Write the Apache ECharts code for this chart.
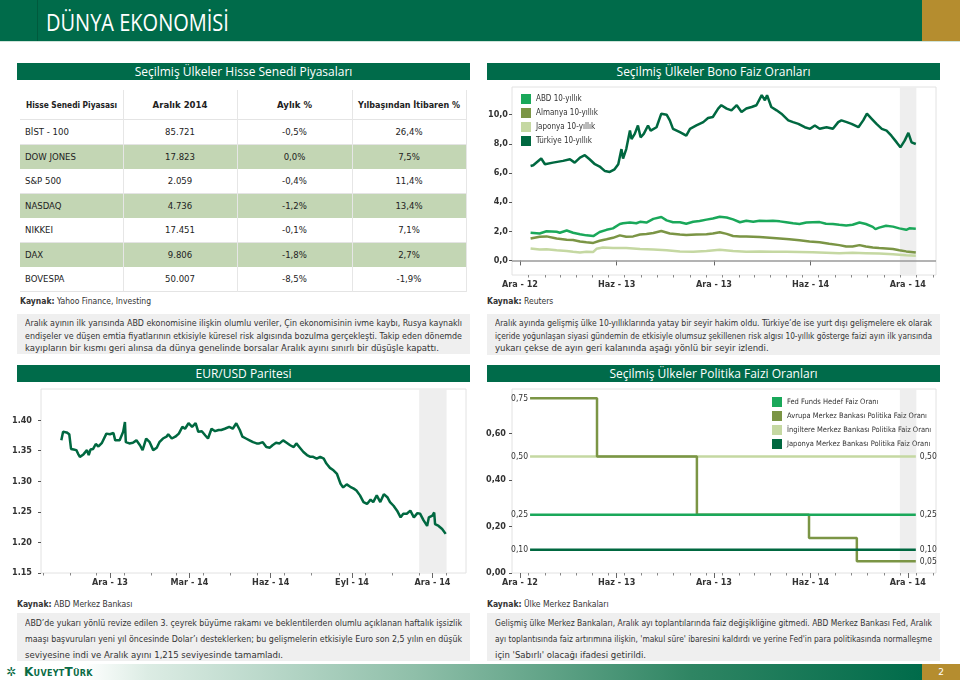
<!DOCTYPE html>
<html><head><meta charset="utf-8">
<script src="https://cdn.jsdelivr.net/npm/echarts@6/dist/echarts.min.js"></script>
<style>
html,body{margin:0;padding:0;background:#fff;}
#page{position:relative;width:960px;height:680px;overflow:hidden;font-family:'DejaVu Sans Condensed','DejaVu Sans',sans-serif;color:#333;}
.a{position:absolute;}
.bar{position:absolute;height:17px;background:#006b4a;color:#fff;font-family:'Open Sans',sans-serif;font-size:12px;line-height:17px;text-align:center;}
.box{position:absolute;background:#efefef;}
.ln{position:absolute;white-space:nowrap;font-size:9.5px;color:#333;}
.src{position:absolute;font-size:8.5px;color:#333;white-space:nowrap;}
.src b{font-weight:bold;}
.cell{position:absolute;font-size:9.5px;color:#222;white-space:nowrap;line-height:24px;}
#chart{position:absolute;left:0;top:0;width:960px;height:680px;z-index:5;pointer-events:none;}
</style></head>
<body><div id="page">
<div class="a" style="left:0;top:0;width:922px;height:41px;background:#006b4a;"></div>
<div class="a" style="left:37px;top:0;width:1px;height:41px;background:#005a3d;"></div>
<div class="a" style="left:922px;top:0;width:38px;height:41px;background:#b58d2f;"></div>
<div class="a" style="left:0;top:41px;width:960px;height:1px;background:#cfe3d9;"></div>
<div class="a" id="title" style="left:46px;top:6px;font-family:'Open Sans',sans-serif;font-size:23px;color:#fff;white-space:nowrap;transform-origin:0 0;transform:scaleX(0.87);">DÜNYA EKONOMİSİ</div>

<div class="bar" style="left:17px;top:63px;width:453px;">Seçilmiş Ülkeler Hisse Senedi Piyasaları</div>
<div class="bar" style="left:487px;top:63px;width:453px;">Seçilmiş Ülkeler Bono Faiz Oranları</div>
<div class="bar" style="left:17px;top:365px;width:453px;">EUR/USD Paritesi</div>
<div class="bar" style="left:487px;top:365px;width:453px;">Seçilmiş Ülkeler Politika Faizi Oranları</div>

<div id="table"></div>

<div class="src" style="left:20px;top:296px;"><b>Kaynak:</b> Yahoo Finance, Investing</div>
<div class="src" style="left:487px;top:296px;"><b>Kaynak:</b> Reuters</div>
<div class="src" style="left:17px;top:599px;"><b>Kaynak:</b> ABD Merkez Bankası</div>
<div class="src" style="left:487px;top:599px;"><b>Kaynak:</b> Ülke Merkez Bankaları</div>

<div class="box" style="left:17px;top:314px;width:453px;height:40px;"></div>
<div class="box" style="left:487px;top:314px;width:453px;height:41px;"></div>
<div class="box" style="left:17px;top:613px;width:453px;height:48px;"></div>
<div class="box" style="left:487px;top:613px;width:453px;height:48px;"></div>
<div id="texts"></div>

<div class="a" style="left:0;top:664px;width:922px;height:16px;background:linear-gradient(to right,#ffffff 0%,#ffffff 9%,#dcece4 16%,#8fbfa9 45%,#2f8563 75%,#006b4a 100%);"></div>
<div class="a" style="left:922px;top:664px;width:38px;height:16px;background:#b58d2f;color:#fff;font-size:9px;line-height:16px;text-align:center;font-family:'DejaVu Sans',sans-serif;">2</div>
<div class="a" style="left:6px;top:665px;font-family:'DejaVu Sans',sans-serif;font-weight:bold;font-size:12px;color:#0a6b45;line-height:14px;">✲</div>
<div class="a" style="left:24px;top:665px;font-family:'DejaVu Sans',sans-serif;font-weight:bold;font-size:12px;color:#0a6b45;line-height:14px;font-variant:small-caps;letter-spacing:0.3px;">KuveytTürk</div>

<div id="chart"></div>
</div>
<script>
// ---------------- DATA ----------------
const tableHeaders = ['Hisse Senedi Piyasası', 'Aralık 2014', 'Aylık %', 'Yılbaşından İtibaren %'];
const marketNames = ['BİST - 100', 'DOW JONES', 'S&P 500', 'NASDAQ', 'NIKKEI', 'DAX', 'BOVESPA'];
const decemberLevels = ['85.721', '17.823', '2.059', '4.736', '17.451', '9.806', '50.007'];
const monthlyPct = [-0.5, 0.0, -0.4, -1.2, -0.1, -1.8, -8.5];
const ytdPct = [26.4, 7.5, 11.4, 13.4, 7.1, 2.7, -1.9];

const bondNames = ['ABD 10-yıllık', 'Almanya 10-yıllık', 'Japonya 10-yıllık', 'Türkiye 10-yıllık'];
const bondTickDates = ['2012-12-16', '2013-06-16', '2013-12-16', '2014-06-16', '2014-12-16'];
const bondTickLabels = ['Ara - 12', 'Haz - 13', 'Ara - 13', 'Haz - 14', 'Ara - 14'];
const bondYTicks = [0, 2, 4, 6, 8, 10];

const usBond = [['2013-01-05',1.90],['2013-01-22',1.85],['2013-02-04',2.00],['2013-02-23',1.97],['2013-03-01',1.90],['2013-03-14',2.05],['2013-03-26',1.90],['2013-04-08',1.80],['2013-04-20',1.72],['2013-05-03',1.67],['2013-05-15',1.95],['2013-05-28',2.10],['2013-06-09',2.20],['2013-06-22',2.50],['2013-06-28',2.55],['2013-07-11',2.60],['2013-07-23',2.55],['2013-07-30',2.65],['2013-08-11',2.60],['2013-08-24',2.85],['2013-09-08',2.98],['2013-09-18',2.75],['2013-09-30',2.62],['2013-10-13',2.62],['2013-10-25',2.52],['2013-11-07',2.65],['2013-11-19',2.70],['2013-12-02',2.80],['2013-12-14',2.88],['2013-12-27',3.00],['2014-01-09',2.95],['2014-01-21',2.82],['2014-02-03',2.62],['2014-02-15',2.72],['2014-02-28',2.65],['2014-03-12',2.72],['2014-03-25',2.70],['2014-04-06',2.72],['2014-04-19',2.68],['2014-05-01',2.62],['2014-05-14',2.55],['2014-05-26',2.50],['2014-06-08',2.60],['2014-06-20',2.62],['2014-07-03',2.63],['2014-07-15',2.52],['2014-07-28',2.50],['2014-08-09',2.45],['2014-08-22',2.40],['2014-09-03',2.45],['2014-09-16',2.60],['2014-09-28',2.50],['2014-10-11',2.30],['2014-10-16',2.15],['2014-10-23',2.25],['2014-11-05',2.38],['2014-11-18',2.32],['2014-11-30',2.20],['2014-12-13',2.10],['2014-12-19',2.20],['2014-12-31',2.17]];
const deBond = [['2013-01-05',1.50],['2013-01-22',1.62],['2013-02-04',1.65],['2013-02-23',1.50],['2013-03-14',1.42],['2013-03-26',1.40],['2013-04-08',1.30],['2013-04-20',1.25],['2013-05-03',1.20],['2013-05-15',1.35],['2013-05-28',1.45],['2013-06-09',1.55],['2013-06-22',1.72],['2013-07-04',1.62],['2013-07-17',1.65],['2013-07-30',1.78],['2013-08-11',1.82],['2013-08-24',1.88],['2013-09-08',2.02],['2013-09-24',1.85],['2013-10-13',1.78],['2013-10-25',1.75],['2013-11-13',1.78],['2013-12-02',1.80],['2013-12-14',1.85],['2013-12-27',1.93],['2014-01-09',1.82],['2014-01-21',1.68],['2014-02-03',1.65],['2014-02-15',1.65],['2014-03-12',1.60],['2014-03-31',1.55],['2014-04-19',1.50],['2014-05-07',1.45],['2014-05-26',1.38],['2014-06-14',1.30],['2014-07-03',1.25],['2014-07-21',1.15],['2014-08-09',1.05],['2014-08-22',0.95],['2014-09-03',0.95],['2014-09-16',1.05],['2014-09-28',0.95],['2014-10-11',0.88],['2014-10-23',0.85],['2014-11-05',0.82],['2014-11-18',0.78],['2014-11-30',0.70],['2014-12-13',0.62],['2014-12-31',0.54]];
const jpBond = [['2013-01-05',0.82],['2013-01-22',0.75],['2013-02-04',0.77],['2013-02-23',0.70],['2013-03-14',0.65],['2013-03-26',0.60],['2013-04-08',0.55],['2013-04-20',0.60],['2013-05-03',0.58],['2013-05-09',0.80],['2013-05-21',0.88],['2013-06-09',0.85],['2013-07-04',0.85],['2013-07-30',0.78],['2013-08-24',0.75],['2013-09-18',0.70],['2013-10-13',0.62],['2013-11-07',0.60],['2013-12-02',0.65],['2013-12-27',0.73],['2014-01-21',0.65],['2014-02-15',0.60],['2014-03-12',0.62],['2014-04-06',0.60],['2014-05-01',0.60],['2014-05-26',0.58],['2014-06-20',0.56],['2014-07-15',0.53],['2014-08-09',0.50],['2014-09-03',0.52],['2014-09-28',0.50],['2014-10-23',0.47],['2014-11-18',0.42],['2014-12-13',0.36],['2014-12-31',0.32]];
const trBond = [['2013-01-05',6.48],['2013-01-10',6.53],['2013-01-25',6.99],['2013-02-01',6.60],['2013-02-16',6.71],['2013-03-07',6.83],['2013-03-20',6.94],['2013-03-29',6.71],['2013-04-08',7.06],['2013-04-17',7.22],['2013-04-26',6.94],['2013-05-06',6.60],['2013-05-15',6.44],['2013-05-25',6.13],['2013-06-03',6.07],['2013-06-12',6.25],['2013-06-19',6.60],['2013-06-25',7.64],['2013-06-28',6.99],['2013-07-04',7.64],['2013-07-11',8.91],['2013-07-14',8.33],['2013-07-20',8.68],['2013-07-26',9.26],['2013-07-31',8.45],['2013-08-06',8.68],['2013-08-14',9.26],['2013-08-19',8.91],['2013-08-30',9.14],['2013-09-08',10.07],['2013-09-18',10.00],['2013-09-24',9.61],['2013-09-30',9.03],['2013-10-13',8.80],['2013-10-25',8.56],['2013-11-01',9.03],['2013-11-13',9.26],['2013-11-26',9.49],['2013-12-05',9.77],['2013-12-14',9.84],['2013-12-24',10.42],['2013-12-30',10.65],['2014-01-09',10.42],['2014-01-18',10.30],['2014-01-28',10.65],['2014-02-06',10.19],['2014-02-15',10.42],['2014-02-25',10.53],['2014-03-06',10.65],['2014-03-16',11.34],['2014-03-22',10.99],['2014-03-26',11.34],['2014-04-03',10.53],['2014-04-13',10.30],['2014-04-22',10.07],['2014-05-05',9.61],['2014-05-14',9.49],['2014-05-24',9.37],['2014-06-05',9.14],['2014-06-15',9.03],['2014-06-24',9.26],['2014-07-03',9.03],['2014-07-16',9.14],['2014-07-28',9.03],['2014-08-07',9.49],['2014-08-13',9.61],['2014-08-23',9.49],['2014-09-01',9.37],['2014-09-14',9.14],['2014-09-23',9.61],['2014-09-30',10.07],['2014-10-09',9.72],['2014-10-18',9.37],['2014-10-28',9.03],['2014-11-06',8.91],['2014-11-15',8.56],['2014-11-25',8.10],['2014-12-02',7.76],['2014-12-10',8.22],['2014-12-17',8.75],['2014-12-23',8.10],['2014-12-31',7.99]];

const eurTickDates = ['2013-12-16', '2014-03-16', '2014-06-16', '2014-09-16', '2014-12-16'];
const eurTickLabels = ['Ara - 13', 'Mar - 14', 'Haz - 14', 'Eyl - 14', 'Ara - 14'];
const eurYTicks = [1.15, 1.20, 1.25, 1.30, 1.35, 1.40];
const eurUsd = [['2013-10-22',1.367],['2013-10-24',1.381],['2013-10-28',1.380],['2013-10-31',1.377],['2013-11-02',1.353],['2013-11-05',1.352],['2013-11-08',1.351],['2013-11-10',1.345],['2013-11-12',1.340],['2013-11-16',1.344],['2013-11-20',1.351],['2013-11-22',1.343],['2013-11-24',1.352],['2013-11-27',1.353],['2013-11-30',1.361],['2013-12-03',1.357],['2013-12-07',1.363],['2013-12-12',1.378],['2013-12-16',1.377],['2013-12-20',1.379],['2013-12-22',1.367],['2013-12-27',1.367],['2013-12-31',1.381],['2014-01-02',1.397],['2014-01-03',1.364],['2014-01-07',1.362],['2014-01-11',1.363],['2014-01-15',1.367],['2014-01-19',1.359],['2014-01-22',1.351],['2014-01-26',1.370],['2014-01-30',1.364],['2014-02-03',1.351],['2014-02-07',1.355],['2014-02-10',1.364],['2014-02-14',1.370],['2014-02-18',1.373],['2014-02-20',1.377],['2014-02-24',1.370],['2014-02-28',1.373],['2014-03-04',1.378],['2014-03-08',1.389],['2014-03-11',1.386],['2014-03-15',1.395],['2014-03-19',1.389],['2014-03-23',1.395],['2014-03-26',1.381],['2014-03-30',1.382],['2014-04-03',1.375],['2014-04-06',1.370],['2014-04-10',1.386],['2014-04-14',1.382],['2014-04-18',1.384],['2014-04-21',1.384],['2014-04-25',1.386],['2014-04-30',1.389],['2014-05-04',1.386],['2014-05-08',1.395],['2014-05-12',1.384],['2014-05-15',1.373],['2014-05-19',1.370],['2014-05-23',1.367],['2014-05-27',1.364],['2014-05-31',1.362],['2014-06-03',1.362],['2014-06-07',1.364],['2014-06-11',1.356],['2014-06-15',1.355],['2014-06-18',1.359],['2014-06-22',1.363],['2014-06-26',1.362],['2014-06-30',1.367],['2014-07-04',1.363],['2014-07-08',1.359],['2014-07-12',1.356],['2014-07-15',1.362],['2014-07-19',1.355],['2014-07-23',1.348],['2014-07-27',1.343],['2014-07-31',1.340],['2014-08-03',1.340],['2014-08-07',1.337],['2014-08-11',1.340],['2014-08-15',1.337],['2014-08-18',1.329],['2014-08-22',1.322],['2014-08-26',1.318],['2014-08-30',1.312],['2014-09-03',1.296],['2014-09-06',1.290],['2014-09-10',1.295],['2014-09-14',1.291],['2014-09-18',1.288],['2014-09-21',1.285],['2014-09-25',1.277],['2014-09-29',1.266],['2014-10-03',1.263],['2014-10-07',1.270],['2014-10-10',1.266],['2014-10-14',1.277],['2014-10-18',1.266],['2014-10-22',1.279],['2014-10-26',1.274],['2014-10-29',1.266],['2014-11-02',1.260],['2014-11-06',1.252],['2014-11-10',1.241],['2014-11-13',1.247],['2014-11-17',1.247],['2014-11-21',1.252],['2014-11-25',1.241],['2014-11-29',1.248],['2014-12-02',1.247],['2014-12-06',1.236],['2014-12-10',1.227],['2014-12-12',1.241],['2014-12-16',1.244],['2014-12-18',1.249],['2014-12-19',1.230],['2014-12-23',1.227],['2014-12-27',1.222],['2014-12-29',1.219],['2014-12-31',1.214]];

const policyNames = ['Fed Funds Hedef Faiz Oranı', 'Avrupa Merkez Bankası Politika Faiz Oranı', 'İngiltere Merkez Bankası Politika Faiz Oranı', 'Japonya Merkez Bankası Politika Faiz Oranı'];
const policyYTicks = [0, 0.2, 0.4, 0.6];
const fedRate = [['2013-01-04',0.25],['2014-12-31',0.25]];
const ecbRate = [['2013-01-04',0.75],['2013-05-10',0.50],['2013-11-14',0.25],['2014-06-13',0.15],['2014-09-11',0.05],['2014-12-31',0.05]];
const boeRate = [['2013-01-04',0.50],['2014-12-31',0.50]];
const bojRate = [['2013-01-04',0.10],['2014-12-31',0.10]];

const textTopLeft = ['Aralık ayının ilk yarısında ABD ekonomisine ilişkin olumlu veriler, Çin ekonomisinin ivme kaybı, Rusya kaynaklı','endişeler ve düşen emtia fiyatlarının etkisiyle küresel risk algısında bozulma gerçekleşti. Takip eden dönemde','kayıpların bir kısmı geri alınsa da dünya genelinde borsalar Aralık ayını sınırlı bir düşüşle kapattı.'];
const textTopRight = ['Aralık ayında gelişmiş ülke 10-yıllıklarında yatay bir seyir hakim oldu. Türkiye’de ise yurt dışı gelişmelere ek olarak','içeride yoğunlaşan siyasi gündemin de etkisiyle olumsuz şekillenen risk algısı 10-yıllık gösterge faizi ayın ilk yarısında','yukarı çekse de ayın geri kalanında aşağı yönlü bir seyir izlendi.'];
const textBottomLeft = ['ABD’de yukarı yönlü revize edilen 3. çeyrek büyüme rakamı ve beklentilerden olumlu açıklanan haftalık işsizlik','maaşı başvuruları yeni yıl öncesinde Dolar’ı desteklerken; bu gelişmelerin etkisiyle Euro son 2,5 yılın en düşük','seviyesine indi ve Aralık ayını 1,215 seviyesinde tamamladı.'];
const textBottomRight = ['Gelişmiş ülke Merkez Bankaları, Aralık ayı toplantılarında faiz değişikliğine gitmedi. ABD Merkez Bankası Fed, Aralık','ayı toplantısında faiz artırımına ilişkin, \'makul süre\' ibaresini kaldırdı ve yerine Fed\'in para politikasında normalleşme','için \'Sabırlı\' olacağı ifadesi getirildi.'];

// ---------------- HELPERS ----------------
const P = s => { const [y, m, d] = s.split('-').map(Number); return Date.UTC(y, m - 1, d); };
const ts = arr => arr.map(([d, v]) => [P(d), v]);
const pct = v => v.toFixed(1).replace('.', ',') + '%';
const comma = (v, n) => v.toFixed(n).replace('.', ',');
function monthStarts(y0, m0, y1, m1) { const out = []; let y = y0, m = m0; while (y < y1 || (y === y1 && m <= m1)) { out.push(Date.UTC(y, m - 1, 1)); m++; if (m > 12) { m = 1; y++; } } return out; }

// ---------------- TABLE ----------------
(function () {
  const t = document.getElementById('table');
  const colX = [20, 123, 237, 352, 466];
  let h = '';
  for (let i = 0; i < marketNames.length; i++) {
    const top = 120 + i * 24.5;
    if (i % 2 === 1) h += `<div class="a" style="left:20px;top:${top}px;width:446px;height:24.5px;background:#c3d6b4;"></div>`;
    else h += `<div class="a" style="left:20px;top:${top + 23.5}px;width:446px;height:1px;background:#e4e4e4;"></div>`;
  }
  h += `<div class="a" style="left:20px;top:119px;width:446px;height:1px;background:#e4e4e4;"></div>`;
  for (let c = 1; c < colX.length; c++) h += `<div class="a" style="left:${colX[c]}px;top:90px;width:1px;height:202px;background:#e6e6e6;"></div>`;
  t.innerHTML = h;
  const mk = (txt, left, top, width, bold) => {
    const d = document.createElement('div');
    d.className = 'cell';
    d.textContent = txt;
    d.style.top = top + 'px';
    if (bold) d.style.fontWeight = 'bold';
    t.appendChild(d);
    if (width) {
      const w = d.getBoundingClientRect().width;
      const s = Math.min(1, (width - 12) / w);
      d.style.left = (left + (width - w * s) / 2) + 'px';
      if (s < 1) { d.style.transformOrigin = '0 50%'; d.style.transform = `scaleX(${s})`; }
    } else d.style.left = left + 'px';
  };
  tableHeaders.forEach((s, c) => mk(s, colX[c], 93, colX[c + 1] - colX[c], true));
  for (let i = 0; i < marketNames.length; i++) {
    const top = 120 + i * 24.5;
    mk(marketNames[i], 25, top, 0, false);
    [decemberLevels[i], pct(monthlyPct[i]), pct(ytdPct[i])].forEach((s, k) => mk(s, colX[k + 1], top, colX[k + 2] - colX[k + 1], false));
  }
})();

// ---------------- TEXT BOXES ----------------
function addLines(lines, left, top, width, lh) {
  const host = document.getElementById('texts');
  lines.forEach((s, i) => {
    const d = document.createElement('div');
    d.className = 'ln';
    d.style.left = left + 'px'; d.style.top = (top + i * lh) + 'px';
    d.textContent = s;
    host.appendChild(d);
    const w = d.getBoundingClientRect().width;
    const last = i === lines.length - 1;
    if (w > width) { d.style.transformOrigin = '0 0'; d.style.transform = `scaleX(${width / w})`; }
    else if (!last) { d.style.width = width + 'px'; d.style.textAlign = 'justify'; d.style.textAlignLast = 'justify'; d.style.whiteSpace = 'normal'; }
  });
}
addLines(textTopLeft, 25, 317, 437, 12.5);
addLines(textTopRight, 495, 317, 437, 12.5);
addLines(textBottomLeft, 25, 617, 437, 16);
addLines(textBottomRight, 495, 617, 437, 16);

// ---------------- CHART ----------------
const C = { dark: '#006840', bright: '#1aa85a', olive: '#7b9545', light: '#c5d8a2', shade: '#eeeeee', border: '#e2e2e2' };
const FONT = "'DejaVu Sans Condensed','DejaVu Sans',sans-serif";
const lbl = { fontSize: 9, color: '#333', fontWeight: 'bold', fontFamily: FONT };

function dateX(grid, min, max, tickDates, tickLabels, minor, margin) {
  const vals = tickDates.map(P);
  return [{
    type: 'value', gridIndex: grid, min: P(min), max: P(max), position: 'bottom',
    axisLine: { show: false }, splitLine: { show: false },
    axisTick: { show: true, customValues: vals, length: 5, lineStyle: { color: '#666' } },
    axisLabel: Object.assign({ customValues: vals, margin: margin, showMinLabel: true, showMaxLabel: true, formatter: v => { const i = vals.indexOf(v); return i >= 0 ? tickLabels[i] : ''; } }, lbl)
  }, {
    type: 'value', gridIndex: grid, min: P(min), max: P(max), position: 'bottom',
    axisLine: { show: false }, splitLine: { show: false }, axisLabel: { show: false },
    axisTick: { show: true, customValues: minor, length: 2.5, lineStyle: { color: '#888' } }
  }];
}
function valY(grid, min, max, ticks, fmt, margin) {
  return {
    type: 'value', gridIndex: grid, min: min, max: max,
    axisLine: { show: false }, splitLine: { show: false },
    axisTick: { show: true, customValues: ticks, length: 3, lineStyle: { color: '#555' } },
    axisLabel: Object.assign({ customValues: ticks, margin: margin, formatter: fmt }, lbl)
  };
}
const shade = (from, to) => ({ silent: true, itemStyle: { color: C.shade }, data: [[{ xAxis: P(from) }, { xAxis: P(to) }]] });
const line = (name, data, color, xi, yi, extra) => Object.assign({
  name: name, type: 'line', data: ts(data), xAxisIndex: xi, yAxisIndex: yi, showSymbol: false, symbol: 'none',
  lineStyle: { color: color, width: 2.5 }, itemStyle: { color: color }, emphasis: { disabled: true }
}, extra || {});

const xAxes = [].concat(
  dateX(0, '2012-12-01', '2015-02-07', bondTickDates, bondTickLabels, monthStarts(2013, 1, 2015, 2), 5),
  dateX(1, '2013-09-29', '2015-01-23', eurTickDates, eurTickLabels, monthStarts(2013, 10, 2015, 1), 5),
  dateX(2, '2012-12-01', '2015-02-07', bondTickDates, bondTickLabels, monthStarts(2013, 1, 2015, 2), 5)
);
const yAxes = [
  valY(0, -1, 11.9, bondYTicks, v => comma(v, 1), 4),
  valY(1, 1.15, 1.451, eurYTicks, v => v.toFixed(2), 9),
  valY(2, 0, 0.79, policyYTicks, v => comma(v, 2), 6)
];

const policyLabel = { show: true, fontSize: 8.5, color: '#333', fontFamily: FONT, formatter: p => comma(p.value[1], 2) };
function policy(name, data, color, z) {
  const d = ts(data).map((v, i) => i === 0 ? { value: v, label: Object.assign({ position: 'left', distance: 2 }, policyLabel) } : v);
  return {
    name: name, type: 'line', step: 'end', data: d, xAxisIndex: 4, yAxisIndex: 2, z: z,
    showSymbol: true, symbol: 'circle', symbolSize: 0.01, label: { show: false },
    lineStyle: { color: color, width: 2.5 }, itemStyle: { color: color },
    emphasis: { disabled: true },
    endLabel: Object.assign({ distance: 4 }, policyLabel)
  };
}

const option = {
  animation: false,
  textStyle: { fontFamily: FONT },
  grid: [
    { left: 512, top: 87, width: 424, height: 188, show: true, borderColor: C.border, borderWidth: 1 },
    { left: 41, top: 389, width: 425, height: 184, show: true, borderColor: C.border, borderWidth: 1 },
    { left: 512, top: 389, width: 424, height: 184, show: true, borderColor: C.border, borderWidth: 1 }
  ],
  xAxis: xAxes,
  yAxis: yAxes,
  legend: [
    { data: bondNames, orient: 'vertical', left: 516, top: 89, itemWidth: 10, itemHeight: 10, itemGap: 4, icon: 'rect', selectedMode: false,
      textStyle: { fontSize: 8, color: '#333', fontFamily: FONT } },
    { data: policyNames, orient: 'vertical', left: 767, top: 392, itemWidth: 10, itemHeight: 10, itemGap: 4, icon: 'rect', selectedMode: false,
      textStyle: { fontSize: 7.5, color: '#333', fontFamily: FONT } }
  ],
  series: [
    line(bondNames[2], jpBond, C.light, 0, 0, {
      markArea: shade('2014-12-01', '2015-01-01'),
      markLine: { silent: true, symbol: 'none', label: { show: false }, lineStyle: { color: '#9a9a9a', width: 1.5, type: 'solid' }, data: [{ yAxis: 0 }] }
    }),
    line(bondNames[1], deBond, C.olive, 0, 0),
    line(bondNames[0], usBond, C.bright, 0, 0),
    line(bondNames[3], trBond, C.dark, 0, 0),
    line('EUR/USD', eurUsd, C.dark, 2, 1, { markArea: shade('2014-12-01', '2015-01-01') }),
    Object.assign(policy(policyNames[2], boeRate, C.light, 2), { markArea: shade('2014-12-01', '2015-01-01') }),
    policy(policyNames[1], ecbRate, C.olive, 3),
    policy(policyNames[0], fedRate, C.bright, 4),
    policy(policyNames[3], bojRate, C.dark, 5)
  ]
};
const chart = echarts.init(document.getElementById('chart'), null, { renderer: 'canvas' });
chart.setOption(option);
</script>
</body></html>
